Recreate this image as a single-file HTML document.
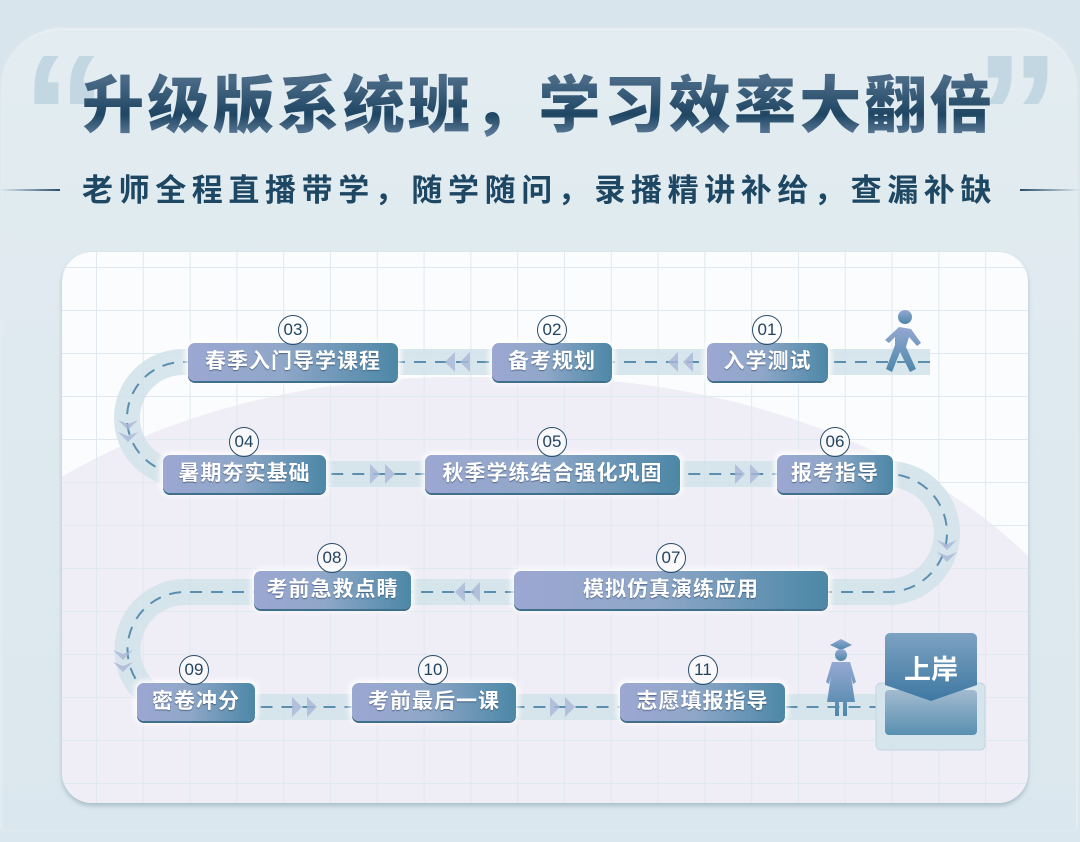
<!DOCTYPE html>
<html><head><meta charset="utf-8">
<style>
*{margin:0;padding:0;box-sizing:border-box}
html,body{width:1080px;height:842px;overflow:hidden}
body{background:linear-gradient(180deg,#d9e5ec,#dbe7ee);font-family:"Liberation Sans","Noto Sans CJK SC",sans-serif;position:relative}
.panel{position:absolute;left:2px;top:30px;width:1074px;height:800px;border-radius:60px 60px 0 0;background:linear-gradient(180deg,#e2ecf1,#dbe7ee);box-shadow:0 -1px 3px rgba(255,255,255,.8)}
.title{position:absolute;left:82px;top:68px;font-size:62px;font-weight:900;letter-spacing:3.2px;white-space:nowrap;background:linear-gradient(180deg,#4a6a86 15%,#1f4663 60%,#7f97b4);-webkit-background-clip:text;background-clip:text;color:transparent;line-height:78px}
.q{position:absolute;font-size:170px;font-weight:900;color:#c2d7e2;font-family:"Liberation Sans",sans-serif;line-height:150px;height:150px;overflow:hidden}
.sub{position:absolute;left:82px;top:171px;font-size:31px;font-weight:700;letter-spacing:5.6px;color:#1e4763;white-space:nowrap;line-height:40px}
.line{position:absolute;top:189px;height:2px;width:60px}
.card{position:absolute;left:62px;top:252px;width:966px;height:551px;border-radius:30px;background:#fbfcfe;overflow:hidden;box-shadow:0 3px 4px rgba(80,120,140,.35)}
.grid{position:absolute;inset:0;background-image:linear-gradient(90deg,#dfe9ef 1px,transparent 1px),linear-gradient(180deg,#dfe9ef 1px,transparent 1px);background-size:46.8px 43px;background-position:34px 15px}
.blob{position:absolute;left:-220px;top:125px;width:1300px;height:426px;border-radius:650px 650px 0 0/450px 450px 0 0;background:rgba(236,232,244,.8)}
.b{position:absolute;height:38px;border-radius:7px;background:linear-gradient(90deg,#9ca7d2,#8fa7c8 45%,#4c87a6);color:#fff;font-weight:700;font-size:21px;text-align:center;line-height:38px;box-shadow:0 2px 0 #3f6f8c,0 0 6px 3px rgba(255,255,255,.9);text-shadow:0 1px 1px rgba(40,60,90,.6);letter-spacing:1px}
.n{position:absolute;width:30px;height:30px;border-radius:50%;border:1.3px solid #2a4d69;background:rgba(255,255,255,.6);color:#23445f;font-size:17px;text-align:center;line-height:28px}
</style></head><body>
<div class="panel"></div>
<div class="q" style="left:22px;top:40px">“</div>
<div class="q" style="left:975px;top:40px">”</div>
<div class="title">升级版系统班，学习效率大翻倍</div>
<div class="line" style="left:0;background:linear-gradient(90deg,transparent,#2a4d69)"></div>
<div class="line" style="left:1020px;background:linear-gradient(90deg,#2a4d69,transparent)"></div>
<div class="sub">老师全程直播带学，随学随问，录播精讲补给，查漏补缺</div>
<div class="card">
<div class="blob"></div>
<div class="grid"></div>
<svg width="966" height="551" style="position:absolute;left:0;top:0" viewBox="62 252 966 551">
<defs>
<linearGradient id="wk" x1="0" y1="0" x2="0" y2="1"><stop offset="0" stop-color="#95a8d2"/><stop offset="1" stop-color="#4d87aa"/></linearGradient>
<linearGradient id="eg" x1="0" y1="0" x2="0" y2="1"><stop offset="0" stop-color="#7da2c2"/><stop offset="1" stop-color="#3e78a2"/></linearGradient>
<linearGradient id="eg2" x1="0" y1="0" x2="0" y2="1"><stop offset="0" stop-color="#9db6cc"/><stop offset="1" stop-color="#4b87ab"/></linearGradient></defs>
<g fill="none" stroke="#d3e2ea" stroke-width="26" opacity=".9">
<path d="M930 362 H183 A56 56 0 0 0 183 474 H888 A59 59 0 0 1 888 592 H185 A57.5 57.5 0 0 0 185 707 H880"/>
</g>
<g fill="none" stroke="#5c8fae" stroke-width="2" stroke-dasharray="12 9">
<path d="M930 362 H183 A56 56 0 0 0 183 474 H888 A59 59 0 0 1 888 592 H185 A57.5 57.5 0 0 0 185 707 H880"/>
</g>
<g fill="#aab6d8" opacity=".8">
<path d="M445 362 l10 -10 v20z M460 362 l10 -10 v20z"/>
<path d="M668 362 l10 -10 v20z M683 362 l10 -10 v20z"/>
<path d="M118 420 l10 10 l10 -10 l-10 4z M118 432 l10 10 l10 -10 l-10 4z"/>
<path d="M395 474 l-10 -10 v20z M380 474 l-10 -10 v20z"/>
<path d="M760 474 l-10 -10 v20z M745 474 l-10 -10 v20z"/>
<path d="M937 540 l10 10 l10 -10 l-10 4z M937 552 l10 10 l10 -10 l-10 4z"/>
<path d="M455 592 l10 -10 v20z M470 592 l10 -10 v20z"/>
<path d="M113 650 l10 10 l10 -10 l-10 4z M113 662 l10 10 l10 -10 l-10 4z"/>
<path d="M317 707 l-10 -10 v20z M302 707 l-10 -10 v20z"/>
<path d="M575 707 l-10 -10 v20z M560 707 l-10 -10 v20z"/>
</g>
<g fill="url(#wk)">
<circle cx="905" cy="317" r="7"/>
<path d="M899 327 l12 2 l10 14 l-4 3 l-8 -9 l-3 10 l10 22 l-6 3 l-10 -20 l-8 20 l-6 -3 l9 -24 l0 -8 l-6 6 l-4 -3z"/>
</g>
<g fill="url(#wk)">
<path d="M830 645 l11 -6 l11 6 l-11 5z"/>
<circle cx="841" cy="655" r="6"/>
<path d="M832 662 h18 l6 20 l-3 2 l-2 -8 l4 26 h-8 v14 h-4 v-14 h-4 v14 h-4 v-14 h-8 l4 -26 l-2 8 l-3 -2z"/>
</g>
<rect x="876" y="683" width="109" height="67" rx="5" fill="#d6e4ec" stroke="#c3d6e1"/>
<rect x="885" y="690" width="92" height="45" rx="4" fill="url(#eg2)" opacity=".9"/>
<path d="M885 638 a5 5 0 0 1 5 -5 h82 a5 5 0 0 1 5 5 v47 l-46 16 l-46 -16z" fill="url(#eg)"/>
<text x="931" y="679" text-anchor="middle" font-size="27" font-weight="700" fill="#fff" font-family="Liberation Sans,Noto Sans CJK SC,sans-serif">上岸</text>
</svg>
</div>
<div class="b" style="left:188px;top:343px;width:210px">春季入门导学课程</div>
<div class="b" style="left:492px;top:343px;width:120px">备考规划</div>
<div class="b" style="left:707px;top:343px;width:121px">入学测试</div>
<div class="b" style="left:163px;top:455px;width:163px">暑期夯实基础</div>
<div class="b" style="left:425px;top:455px;width:255px">秋季学练结合强化巩固</div>
<div class="b" style="left:777px;top:455px;width:116px">报考指导</div>
<div class="b" style="left:254px;top:571px;width:157px">考前急救点睛</div>
<div class="b" style="left:514px;top:571px;width:314px">模拟仿真演练应用</div>
<div class="b" style="left:137px;top:683px;width:118px">密卷冲分</div>
<div class="b" style="left:352px;top:683px;width:164px">考前最后一课</div>
<div class="b" style="left:620px;top:683px;width:165px">志愿填报指导</div>
<div class="n" style="left:278px;top:315px">03</div>
<div class="n" style="left:537px;top:315px">02</div>
<div class="n" style="left:752px;top:315px">01</div>
<div class="n" style="left:229px;top:427px">04</div>
<div class="n" style="left:537px;top:427px">05</div>
<div class="n" style="left:820px;top:427px">06</div>
<div class="n" style="left:317px;top:543px">08</div>
<div class="n" style="left:656px;top:543px">07</div>
<div class="n" style="left:179px;top:655px">09</div>
<div class="n" style="left:418px;top:655px">10</div>
<div class="n" style="left:688px;top:655px">11</div>
</body></html>
